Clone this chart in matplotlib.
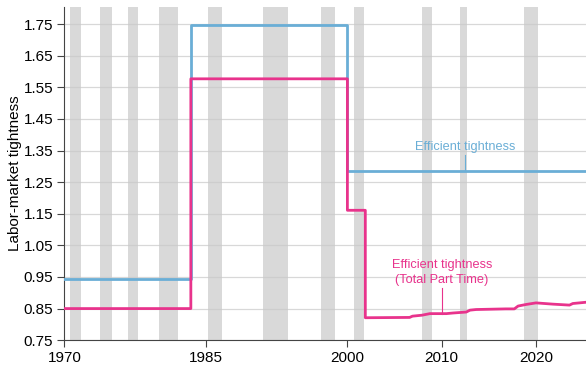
import numpy as np
import matplotlib
matplotlib.use("Agg")
import matplotlib.pyplot as plt

plt.rcParams['font.family'] = ['Liberation Sans', 'DejaVu Sans']

# ------------------------------------------------------------------------------
# data

blue_years  = [1970, 1983.4, 1983.4, 2000.0, 2000.0, 2025.3]
blue_values = [0.944, 0.944, 1.747, 1.747, 1.285, 1.285]

pink_years  = [1970, 1983.4, 1983.4, 2000.0, 2000.0, 2001.9, 2001.9,
               2006.6, 2006.9, 2007.9, 2008.75, 2010.5, 2011.2, 2012.6,
               2013.0, 2013.65, 2016.8, 2017.7, 2018.1, 2018.95, 2020.0,
               2021.8, 2023.55, 2023.9, 2025.3]
pink_values = [0.85, 0.85, 1.577, 1.577, 1.161, 1.161, 0.821,
               0.822, 0.826, 0.829, 0.834, 0.834, 0.836, 0.839,
               0.845, 0.847, 0.849, 0.849, 0.858, 0.863, 0.868,
               0.864, 0.861, 0.866, 0.870]

recessions = [(1970.55, 1971.77), (1973.77, 1975.03), (1976.76, 1977.75),
              (1980.04, 1982.0), (1985.25, 1986.72), (1991.04, 1993.7),
              (1997.24, 1998.73), (2000.75, 2001.75), (2007.95, 2008.98),
              (2011.9, 2012.68), (2018.73, 2020.21)]

y_ticks = [0.75, 0.85, 0.95, 1.05, 1.15, 1.25, 1.35, 1.45, 1.55, 1.65, 1.75]
x_ticks = [1970, 1985, 2000, 2010, 2020]

blue = '#6aaed6'
pink = '#e8338c'

# ------------------------------------------------------------------------------
# drawing

fig = plt.figure(figsize=(5.86, 3.73), dpi=100)
ax = fig.add_axes([0.110, 0.088, 0.890, 0.893])

for start, end in recessions:
    ax.axvspan(start, end, color='#d9d9d9', lw=0, zorder=0)

for y in y_ticks:
    ax.axhline(y, color='#c8c8c8', lw=0.9, alpha=0.7, zorder=1)

ax.plot(blue_years, blue_values, color=blue, lw=2, zorder=3)
ax.plot(pink_years, pink_values, color=pink, lw=2, zorder=4)

# labels
ax.text(2012.45, 1.36, "Efficient tightness", color=blue, fontsize=9.2,
        ha='center', va='center', zorder=5)
ax.plot([2012.45, 2012.45], [1.285, 1.335], color=blue, lw=0.8, zorder=5)

ax.text(2010.0, 0.964, "Efficient tightness\n(Total Part Time)", color=pink,
        fontsize=9.2, ha='center', va='center', linespacing=1.25, zorder=5)
ax.plot([2010.0, 2010.0], [0.834, 0.915], color=pink, lw=0.8, zorder=5)

ax.set_xlim(1970, 2025.3)
ax.set_ylim(0.75, 1.804)
ax.set_xticks(x_ticks)
ax.set_yticks(y_ticks)
ax.set_yticklabels([f"{v:.2f}" for v in y_ticks])
ax.tick_params(labelsize=11, length=5, width=0.8, color='#444444', pad=3)
ax.set_ylabel("Labor-market tightness", fontsize=11)
ax.yaxis.set_label_coords(-0.081, 0.5)

for side in ['top', 'right']:
    ax.spines[side].set_visible(False)
for side in ['left', 'bottom']:
    ax.spines[side].set_color('#444444')
    ax.spines[side].set_linewidth(0.8)

fig.savefig("out.png", dpi=100)
